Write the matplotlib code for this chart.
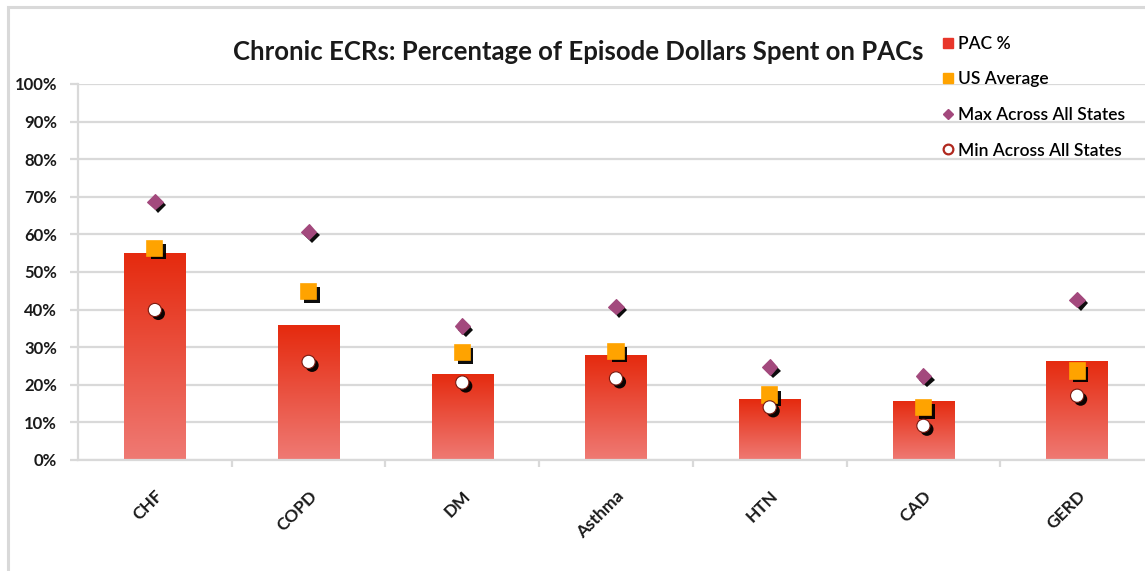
import matplotlib
matplotlib.use("Agg")
import matplotlib.pyplot as plt
import matplotlib.patheffects as pe
from matplotlib.lines import Line2D
from matplotlib.patches import Rectangle
from matplotlib.colors import LinearSegmentedColormap
from matplotlib.ticker import FixedLocator, FuncFormatter
import numpy as np

plt.rcParams['font.family'] = ['Lato', 'DejaVu Sans']

conditions = ["CHF", "COPD", "DM", "Asthma", "HTN", "CAD", "GERD"]
pac_pct = [55.1, 35.9, 22.9, 27.8, 16.2, 15.8, 26.4]
us_average = [56.3, 44.8, 28.6, 28.9, 17.3, 13.9, 23.7]
max_states = [68.7, 60.7, 35.6, 40.8, 24.7, 22.3, 42.6]
min_states = [39.9, 26.1, 20.6, 21.7, 14.0, 9.1, 17.1]

grid_gray = '#D9D9D9'
bar_cmap = LinearSegmentedColormap.from_list('pac', ['#EF7A74', '#E52A0E'])

fig = plt.figure(figsize=(11.45, 5.71), dpi=100)
ax = fig.add_axes([78 / 1145, 111 / 571, 1076 / 1145, 376 / 571])

x = np.arange(len(conditions))

# bars with a vertical gradient, light at the base and deep red on top
bars = ax.bar(x, pac_pct, width=0.4, color='none', zorder=2)
grad = np.linspace(0, 1, 256).reshape(-1, 1)
for b in bars:
    x0, y0 = b.get_x(), b.get_y()
    im = ax.imshow(grad, cmap=bar_cmap, origin='lower', aspect='auto',
                   extent=(x0, x0 + b.get_width(), y0, y0 + b.get_height()),
                   zorder=2)
    im.set_clip_path(b)

shadow = [pe.SimplePatchShadow(offset=(2.5, -2.5), shadow_rgbFace='black', alpha=0.95),
          pe.Normal()]

ax.plot(x, us_average, linestyle='none', marker='s', markersize=11,
        markerfacecolor='#FFA300', markeredgecolor='#FFA300', markeredgewidth=1.2,
        zorder=4, path_effects=shadow)
ax.plot(x, max_states, linestyle='none', marker='D', markersize=7.8,
        markerfacecolor='#A3497D', markeredgecolor='#A3497D', markeredgewidth=0.8,
        zorder=4, path_effects=shadow)
ax.plot(x, min_states, linestyle='none', marker='o', markersize=9.5,
        markerfacecolor='white', markeredgecolor='#7A1A10', markeredgewidth=0.8,
        zorder=4, path_effects=shadow)

ax.set_xlim(-0.5, len(conditions) - 0.5)
ax.set_ylim(0, 100)

ax.yaxis.set_major_locator(FixedLocator(np.arange(0, 101, 10)))
ax.yaxis.set_major_formatter(FuncFormatter(lambda v, p: f"{int(v)}%"))
ax.grid(axis='y', color=grid_gray, linewidth=1.6, zorder=0)
ax.set_axisbelow(True)

ax.set_xticks(x)
ax.set_xticklabels(conditions, rotation=45, ha='right', rotation_mode='anchor',
                   fontsize=12.5, fontweight='bold', color='#1A1A1A')
ax.set_xticks(np.arange(0.5, len(conditions) - 0.5, 1), minor=True)
ax.tick_params(axis='x', which='major', length=0, pad=20)
ax.tick_params(axis='x', which='minor', length=5, width=1.6, color=grid_gray)
ax.tick_params(axis='y', length=6, width=1.6, color=grid_gray, pad=9,
               labelsize=12)
for lbl in ax.get_yticklabels():
    lbl.set_fontweight('bold')
    lbl.set_color('#1A1A1A')

for side in ['top', 'right']:
    ax.spines[side].set_visible(False)
for side in ['left', 'bottom']:
    ax.spines[side].set_color(grid_gray)
    ax.spines[side].set_linewidth(1.6)

fig.text(578 / 1145, 1 - 52 / 571,
         'Chronic ECRs: Percentage of Episode Dollars Spent on PACs',
         ha='center', va='center', fontsize=18.5, fontweight='bold', color='#1A1A1A')

handles = [
    Line2D([], [], linestyle='none', marker='s', markersize=7,
           markerfacecolor='#E8362A', markeredgecolor='#E8362A'),
    Line2D([], [], linestyle='none', marker='s', markersize=7,
           markerfacecolor='#FFA300', markeredgecolor='#FFA300'),
    Line2D([], [], linestyle='none', marker='D', markersize=5.5,
           markerfacecolor='#A3497D', markeredgecolor='#A3497D'),
    Line2D([], [], linestyle='none', marker='o', markersize=7,
           markerfacecolor='white', markeredgecolor='#B0281E', markeredgewidth=1.6),
]
labels = ['PAC %', 'US Average', 'Max Across All States', 'Min Across All States']
fig.legend(handles, labels, loc='upper left', bbox_to_anchor=(934 / 1145, 1 - 27 / 571),
           frameon=False, handlelength=0.6, handletextpad=0.3,
           labelspacing=1.13, borderpad=0, prop={'weight': 'semibold', 'size': 12.5})

# light outline around the whole chart area
fig.patches.append(Rectangle((8 / 1145, -0.1), 1.2, 1 - 7 / 571 + 0.1,
                             transform=fig.transFigure, fill=False,
                             edgecolor=grid_gray, linewidth=2.2, zorder=0))

fig.savefig('out.png', dpi=100)
